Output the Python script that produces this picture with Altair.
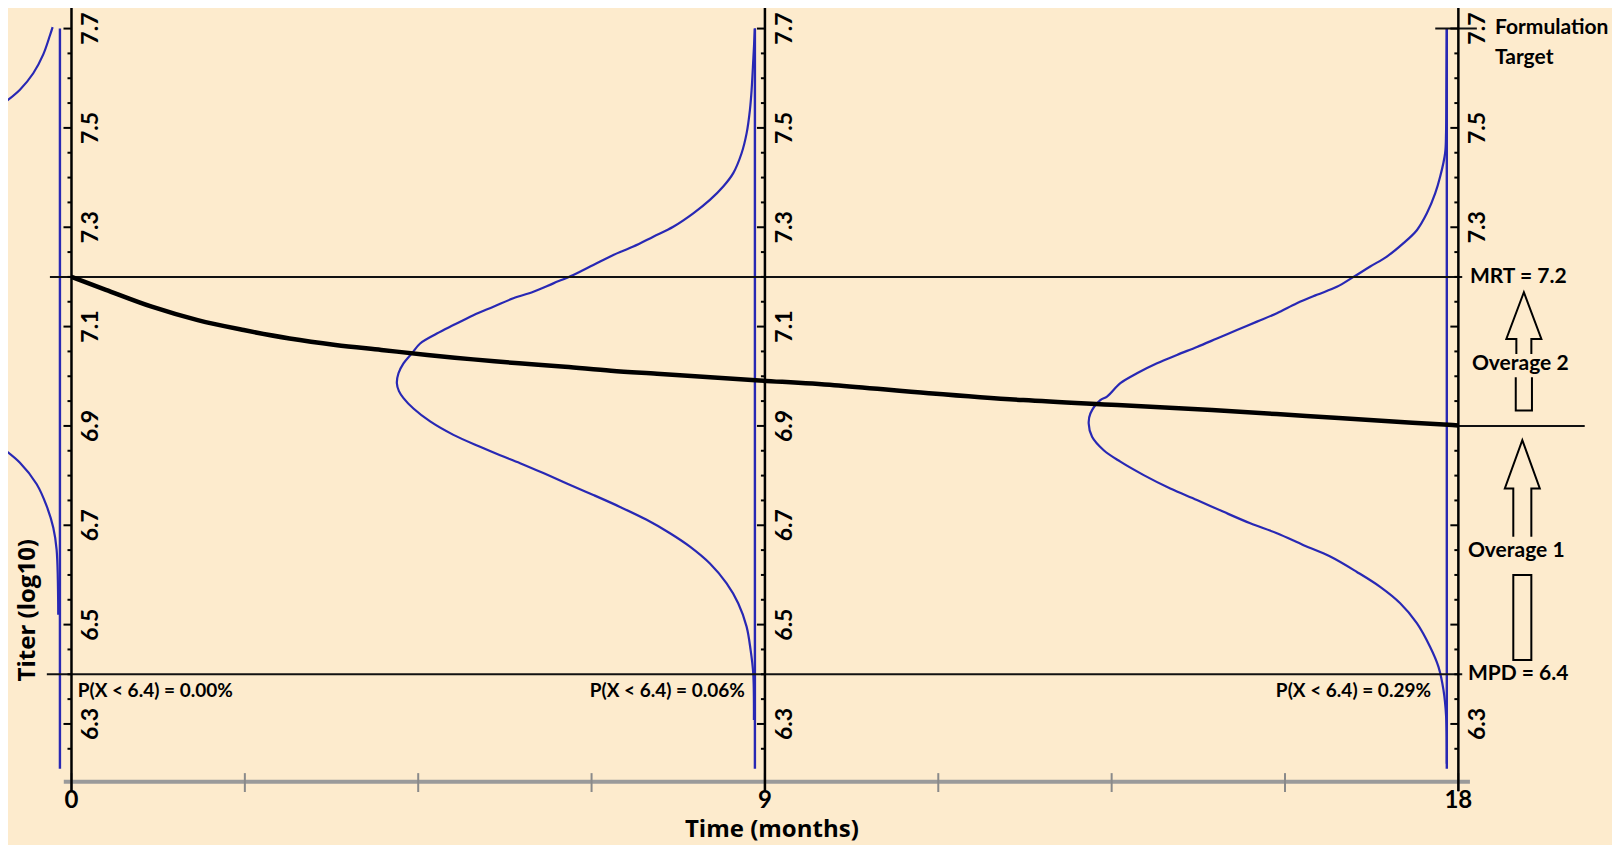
import altair as alt
import pandas as pd

# ---------------- data ----------------
AXIS_MONTHS = [0, 9, 18]
TIME_TICKS = [0, 2.25, 4.5, 6.75, 9, 11.25, 13.5, 15.75, 18]
TIME_LABELS = ["0", "9", "18"]
TITER_LABELS = [6.3, 6.5, 6.7, 6.9, 7.1, 7.3, 7.5, 7.7]
TITER_LABELS_RIGHT = [6.3, 7.3, 7.5, 7.7]
TITER_MINOR = [6.25, 6.35, 6.40, 6.45, 6.55, 6.60, 6.65, 6.75, 6.80, 6.85,
               6.95, 7.00, 7.05, 7.15, 7.20, 7.25, 7.35, 7.40, 7.45, 7.55,
               7.60, 7.65]
MRT = 7.2
MPD = 6.4
OVERAGE_LEVEL = 6.9
TARGET_LEVEL = 7.7

# mean titer decay curve (months, log10 titer)
DECAY_T = [0, 0.446, 1.042, 1.638, 2.235, 2.831, 3.426, 4.022, 4.618, 5.213,
           5.809, 6.405, 7.002, 7.598, 8.193, 8.879, 9.901, 11.127, 12.352,
           13.576, 14.801, 16.026, 17.251, 17.925, 18.0]
DECAY_V = [7.200, 7.174, 7.140, 7.113, 7.093, 7.076, 7.063, 7.053, 7.043, 7.034,
           7.026, 7.019, 7.011, 7.005, 6.999, 6.992, 6.982, 6.966, 6.952,
           6.942, 6.932, 6.920, 6.908, 6.902, 6.901]

# sideways distributions: baseline month, titer values, leftward extent (months)
BASELINES = [-0.15, 8.87, 17.85]
BASE_TOP = 7.70
BASE_BOTTOM = 6.21

DIST9_V = [7.700, 7.640, 7.576, 7.536, 7.489, 7.449, 7.409, 7.382, 7.355, 7.328,
           7.301, 7.281, 7.261, 7.244, 7.224, 7.204, 7.187, 7.170, 7.157, 7.140,
           7.123, 7.103, 7.086, 7.066, 7.046, 7.026, 7.006, 6.986, 6.970, 6.956,
           6.935, 6.909, 6.882, 6.858, 6.841, 6.825, 6.805, 6.784, 6.761, 6.737,
           6.711, 6.684, 6.657, 6.623, 6.583, 6.543, 6.496, 6.449, 6.402, 6.308]
DIST9_D = [0.000, 0.020, 0.043, 0.065, 0.108, 0.173, 0.281, 0.411, 0.584, 0.800,
           1.060, 1.319, 1.578, 1.838, 2.097, 2.357, 2.616, 2.875, 3.135, 3.394,
           3.654, 3.913, 4.128, 4.345, 4.453, 4.561, 4.626, 4.647, 4.620, 4.561,
           4.432, 4.215, 3.913, 3.567, 3.307, 3.048, 2.746, 2.442, 2.097, 1.751,
           1.405, 1.102, 0.843, 0.584, 0.367, 0.217, 0.108, 0.056, 0.022, 0.013]

DIST18_V = [7.700, 7.580, 7.490, 7.449, 7.402, 7.368, 7.328, 7.294, 7.268, 7.241,
            7.221, 7.200, 7.180, 7.164, 7.147, 7.127, 7.110, 7.093, 7.076, 7.059,
            7.043, 7.026, 7.006, 6.986, 6.959, 6.952, 6.925, 6.905, 6.878, 6.851,
            6.828, 6.801, 6.774, 6.751, 6.727, 6.704, 6.684, 6.660, 6.637, 6.606,
            6.576, 6.543, 6.503, 6.455, 6.415, 6.368, 6.315, 6.220]
DIST18_D = [0.000, 0.005, 0.010, 0.022, 0.086, 0.151, 0.259, 0.389, 0.562, 0.778,
            0.994, 1.211, 1.427, 1.686, 1.946, 2.205, 2.464, 2.724, 2.983, 3.243,
            3.502, 3.761, 4.021, 4.237, 4.410, 4.497, 4.626, 4.648, 4.604, 4.453,
            4.237, 3.934, 3.589, 3.243, 2.897, 2.551, 2.205, 1.859, 1.513, 1.167,
            0.865, 0.605, 0.389, 0.216, 0.108, 0.043, 0.009, 0.000]

DIST0_UP_V = [7.703, 7.686, 7.648, 7.610, 7.577, 7.544]
DIST0_UP_D = [0.095, 0.130, 0.216, 0.346, 0.519, 0.778]
DIST0_LO_V = [6.859, 6.826, 6.783, 6.739, 6.695, 6.651, 6.520]
DIST0_LO_D = [0.778, 0.519, 0.303, 0.173, 0.086, 0.043, 0.022]

PROB_TEXT = ["P(X < 6.4) = 0.00%", "P(X < 6.4) = 0.06%", "P(X < 6.4) = 0.29%"]
PROB_T = [0.08, 8.74, 17.645]
PROB_V = 6.366

NOTE_TEXT = ["Formulation", "Target", "MRT = 7.2", "Overage 2", "Overage 1", "MPD = 6.4"]
NOTE_T = [18.475, 18.475, 18.15, 18.176, 18.124, 18.124]
NOTE_V = [7.701, 7.641, 7.2, 7.025, 6.648, 6.4]

ARROW_T = [18.85, 18.83]
ARROW_V = [7.05, 6.65]

# ---------------- styling ----------------
BG = "#FDEBCD"
BLUE = "#2828B4"
FONT = "Lato"
TITLE_FONT = "Open Sans"
W, H = 1604, 837
T_DOMAIN = [-0.824, 19.994]
V_DOMAIN = [6.0563, 7.7414]

ARROW2_SHAPE = ("M-0.125,0.041 L-0.125,-0.209 L-0.292,-0.209 L0,-0.986 L0.292,-0.209 "
                "L0.125,-0.209 L0.125,0.041 M-0.135,0.431 L-0.135,0.986 L0.135,0.986 L0.135,0.431")
ARROW1_SHAPE = ("M-0.082,-0.122 L-0.082,-0.561 L-0.159,-0.561 L0,-1 L0.159,-0.561 "
                "L0.082,-0.561 L0.082,-0.122 M-0.082,0.227 L-0.082,1 L0.082,1 L0.082,0.227 Z")

xs = alt.Scale(domain=T_DOMAIN, nice=False, zero=False)
ys = alt.Scale(domain=V_DOMAIN, nice=False, zero=False)


def X(f="t"):
    return alt.X(f"{f}:Q", scale=xs, axis=None)


def Y(f="v"):
    return alt.Y(f"{f}:Q", scale=ys, axis=None)


# ---------------- tables ----------------
rows = []
for seg, base, vs, ds in [("d0u", BASELINES[0], DIST0_UP_V, DIST0_UP_D),
                          ("d0l", BASELINES[0], DIST0_LO_V, DIST0_LO_D),
                          ("d9", BASELINES[1], DIST9_V, DIST9_D),
                          ("d18", BASELINES[2], DIST18_V, DIST18_D)]:
    for i, (v, d) in enumerate(zip(vs, ds)):
        rows.append({"seg": seg, "i": i, "t": base - d, "v": v})
dist_df = pd.DataFrame(rows)

base_df = pd.DataFrame({"t": BASELINES, "v": [BASE_BOTTOM] * 3, "v2": [BASE_TOP] * 3})
decay_df = pd.DataFrame({"i": range(len(DECAY_T)), "t": DECAY_T, "v": DECAY_V})

hline_df = pd.DataFrame({
    "t": [-0.28, -0.32, 18.0, 17.70],
    "t2": [18.05, 18.05, 19.64, 18.24],
    "v": [MRT, MPD, OVERAGE_LEVEL, TARGET_LEVEL],
})

axis_df = pd.DataFrame({"t": AXIS_MONTHS, "v": [6.165] * 3, "v2": [7.76] * 3})
xaxis_df = pd.DataFrame({"t": [-0.10], "t2": [18.15], "v": [6.1837]})
xtick_df = pd.DataFrame({"t": TIME_TICKS, "v": [6.163] * len(TIME_TICKS), "v2": [6.201] * len(TIME_TICKS)})
xlab_df = pd.DataFrame({"t": AXIS_MONTHS, "v": [6.1449] * 3, "label": TIME_LABELS})

major_df = pd.DataFrame([{"t": a, "v": v} for a in AXIS_MONTHS for v in TITER_LABELS])
minor_df = pd.DataFrame([{"t": a, "v": v} for a in AXIS_MONTHS for v in TITER_MINOR])
ylab_df = pd.DataFrame(
    [{"t": a, "v": v, "label": f"{v:.1f}"} for a in AXIS_MONTHS
     for v in (TITER_LABELS if a != 18 else TITER_LABELS_RIGHT)]
)

prob_left = pd.DataFrame({"t": PROB_T[:1], "v": [PROB_V], "label": PROB_TEXT[:1]})
prob_right = pd.DataFrame({"t": PROB_T[1:], "v": [PROB_V] * 2, "label": PROB_TEXT[1:]})
note_df = pd.DataFrame({"t": NOTE_T, "v": NOTE_V, "label": NOTE_TEXT})
arrow2_df = pd.DataFrame({"t": ARROW_T[:1], "v": ARROW_V[:1]})
arrow1_df = pd.DataFrame({"t": ARROW_T[1:], "v": ARROW_V[1:]})
xtitle_df = pd.DataFrame({"t": [9.09], "v": [6.0865], "label": ["Time (months)"]})
ytitle_df = pd.DataFrame({"t": [-0.565], "v": [6.529], "label": ["Titer (log10)"]})

# ---------------- layers ----------------
layers = []

layers.append(alt.Chart(xaxis_df).mark_rule(color="#9a9a9a", strokeWidth=4).encode(
    x=X(), x2="t2:Q", y=Y()))
layers.append(alt.Chart(xtick_df).mark_rule(color="#8a8a8a", strokeWidth=2).encode(
    x=X(), y=Y(), y2="v2:Q"))

layers.append(alt.Chart(base_df).mark_rule(color=BLUE, strokeWidth=2.4, clip=True).encode(
    x=X(), y=Y(), y2="v2:Q"))
layers.append(alt.Chart(dist_df).mark_line(
    color=BLUE, strokeWidth=2.2, clip=True, interpolate="catmull-rom").encode(
    x=X(), y=Y(), detail="seg:N", order="i:Q"))

layers.append(alt.Chart(hline_df).mark_rule(color="#111111", strokeWidth=2).encode(
    x=X(), x2="t2:Q", y=Y()))

layers.append(alt.Chart(axis_df).mark_rule(color="black", strokeWidth=2.5, clip=True).encode(
    x=X(), y=Y(), y2="v2:Q"))
layers.append(alt.Chart(major_df).mark_rule(color="black", strokeWidth=2, xOffset=-8, x2Offset=0).encode(
    x=X(), x2="t:Q", y=Y()))
layers.append(alt.Chart(minor_df).mark_rule(color="black", strokeWidth=2, xOffset=-4, x2Offset=0).encode(
    x=X(), x2="t:Q", y=Y()))

layers.append(alt.Chart(decay_df).mark_line(
    color="black", strokeWidth=4.5, interpolate="catmull-rom").encode(
    x=X(), y=Y(), order="i:Q"))

layers.append(alt.Chart(ylab_df).mark_text(
    angle=270, dy=20, fontSize=23, fontWeight="bold", font=FONT, color="black",
    align="center", baseline="middle").encode(x=X(), y=Y(), text="label:N"))

layers.append(alt.Chart(xlab_df).mark_text(
    fontSize=24, fontWeight="bold", font=FONT, color="black",
    align="center", baseline="middle").encode(x=X(), y=Y(), text="label:N"))

layers.append(alt.Chart(prob_left).mark_text(
    fontSize=19, fontWeight="bold", font=FONT, color="black",
    align="left", baseline="middle").encode(x=X(), y=Y(), text="label:N"))
layers.append(alt.Chart(prob_right).mark_text(
    fontSize=19, fontWeight="bold", font=FONT, color="black",
    align="right", baseline="middle").encode(x=X(), y=Y(), text="label:N"))

layers.append(alt.Chart(note_df).mark_text(
    fontSize=21, fontWeight="bold", font=FONT, color="black",
    align="left", baseline="middle").encode(x=X(), y=Y(), text="label:N"))

layers.append(alt.Chart(arrow2_df).mark_point(
    shape=ARROW2_SHAPE, size=14400, filled=False, stroke="black", strokeWidth=2,
    opacity=1).encode(x=X(), y=Y()))
layers.append(alt.Chart(arrow1_df).mark_point(
    shape=ARROW1_SHAPE, size=48400, filled=False, stroke="black", strokeWidth=2,
    opacity=1).encode(x=X(), y=Y()))

layers.append(alt.Chart(xtitle_df).mark_text(
    fontSize=24, fontWeight="bold", font=TITLE_FONT, color="black",
    align="center", baseline="middle").encode(x=X(), y=Y(), text="label:N"))
layers.append(alt.Chart(ytitle_df).mark_text(
    angle=270, fontSize=24, fontWeight="bold", font=TITLE_FONT, color="black",
    align="center", baseline="middle").encode(x=X(), y=Y(), text="label:N"))

chart = alt.layer(*layers).properties(
    width=W, height=H, background=BG, padding=0,
    autosize=alt.AutoSizeParams(type="none"),
).configure_view(stroke=None)

chart.save("out.html", embed_options={"renderer": "svg", "actions": False})
